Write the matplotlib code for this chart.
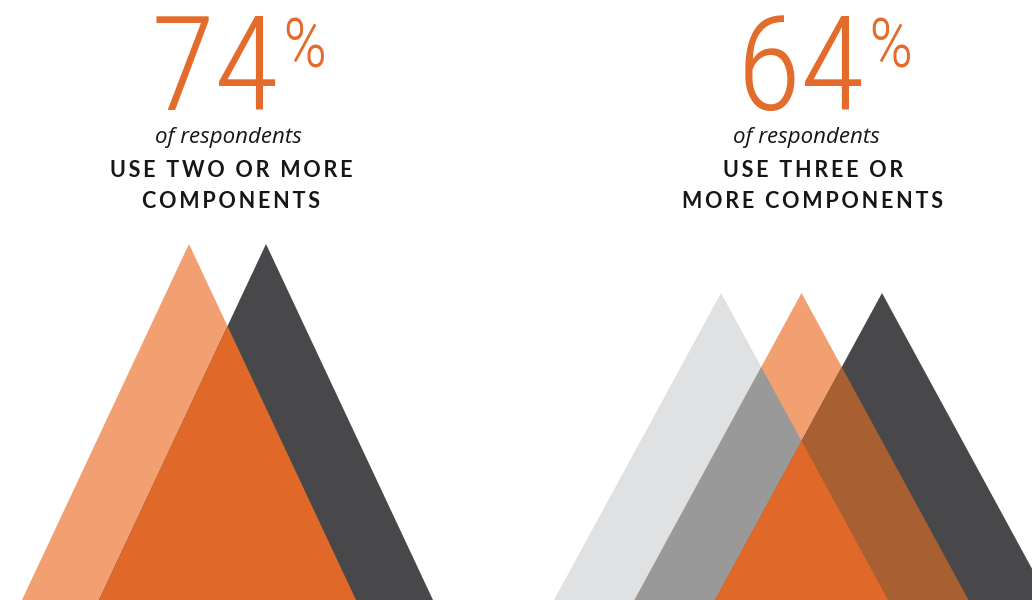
import os
import matplotlib
matplotlib.use("Agg")
import matplotlib.pyplot as plt
from matplotlib import font_manager
from matplotlib.font_manager import FontProperties
from matplotlib.patches import Polygon

# ---------------- data ----------------
percentages = [74, 64]
component_counts = [2, 3]
subtitle = "of respondents"
headline_lines = [["USE TWO OR MORE", "COMPONENTS"],
                  ["USE THREE OR", "MORE COMPONENTS"]]

# ---------------- styles ----------------
ORANGE = "#E0692A"
TEXT_ORANGE = "#E36B2B"
LIGHT_ORANGE = "#F29F72"
DARK = "#48484A"
LIGHT_GREY = "#E0E1E2"
MID_GREY = "#999999"
BROWN = "#A86033"
TEXT_DARK = "#161616"

tri_colors = [[LIGHT_ORANGE, DARK], [LIGHT_GREY, LIGHT_ORANGE, DARK]]
overlap_colors = [
    [((0, 1), ORANGE)],
    [((0, 1), MID_GREY), ((1, 2), BROWN), ((0, 1, 2), ORANGE)],
]

# ---------------- layout ----------------
W, H, DPI = 1032, 600, 100
panel_cx = [227.5, 801.5]          # centre of triangle group
panel_apex_y = [244, 293]
panel_spacing = [77, 80.5]
base_y = 600
base_half = 167
head_cx = [231.5, 813.0]
sub_cx = [228.5, 806.5]
num_cx = [214.5, 800.5]
num_base_y = 110
pct_base_y = 68
sub_base_y = 143
line_base_y = [177, 208]


def light_font():
    files = [f.fname for f in font_manager.fontManager.ttflist]
    prefs = ["robotocondensed-light", "opensanscondensed-light", "roboto-light",
             "opensans-light", "lato-light", "sourcesanspro-light"]
    for p in prefs:
        for fn in files:
            b = os.path.basename(fn).lower().replace(" ", "").replace("_", "-")
            if b.startswith(p) and "italic" not in b:
                return FontProperties(fname=fn)
    return FontProperties(family="DejaVu Sans", weight="light")


NUM_FP = light_font()


def clip(subject, clipper):
    """Sutherland-Hodgman clipping of convex CCW polygons."""
    def inside(p, a, b):
        return (b[0] - a[0]) * (p[1] - a[1]) - (b[1] - a[1]) * (p[0] - a[0]) >= 0

    def inter(p, q, a, b):
        x1, y1 = p; x2, y2 = q; x3, y3 = a; x4, y4 = b
        den = (x1 - x2) * (y3 - y4) - (y1 - y2) * (x3 - x4)
        t = ((x1 - x3) * (y3 - y4) - (y1 - y3) * (x3 - x4)) / den
        return (x1 + t * (x2 - x1), y1 + t * (y2 - y1))

    out = list(subject)
    n = len(clipper)
    for i in range(n):
        a, b = clipper[i], clipper[(i + 1) % n]
        inp, out = out, []
        if not inp:
            break
        s = inp[-1]
        for e in inp:
            if inside(e, a, b):
                if not inside(s, a, b):
                    out.append(inter(s, e, a, b))
                out.append(e)
            elif inside(s, a, b):
                out.append(inter(s, e, a, b))
            s = e
    return out


def track(s, sep="\u2009"):
    return sep.join(s)


fig = plt.figure(figsize=(W / DPI, H / DPI), dpi=DPI)
ax = fig.add_axes([0, 0, 1, 1])
ax.set_xlim(0, W)
ax.set_ylim(H, 0)
ax.axis("off")

renderer = fig.canvas.get_renderer()

for p, (pct, n) in enumerate(zip(percentages, component_counts)):
    # triangles
    tris = []
    for i in range(n):
        axp = panel_cx[p] + (i - (n - 1) / 2) * panel_spacing[p]
        tri = [(axp, panel_apex_y[p]), (axp + base_half, base_y), (axp - base_half, base_y)]
        tris.append(tri)
        ax.add_patch(Polygon(tri, closed=True, facecolor=tri_colors[p][i],
                             edgecolor="none", zorder=1))
    for idx, col in overlap_colors[p]:
        poly = tris[idx[0]]
        for j in idx[1:]:
            poly = clip(poly, tris[j])
        if len(poly) >= 3:
            ax.add_patch(Polygon(poly, closed=True, facecolor=col,
                                 edgecolor="none", zorder=2 + len(idx)))

    # big number + percent sign
    t = ax.text(num_cx[p], num_base_y, f"{pct}", fontproperties=NUM_FP, fontsize=95,
                color=TEXT_ORANGE, ha="center", va="baseline")
    bb = t.get_window_extent(renderer)
    ax.text(bb.x1 + 4, pct_base_y, "%", fontproperties=NUM_FP, fontsize=50,
            color=TEXT_ORANGE, ha="left", va="baseline")

    # subtitle
    ax.text(sub_cx[p], sub_base_y, subtitle, fontsize=16, family=["Open Sans", "DejaVu Sans"],
            style="italic", fontweight="normal", color=TEXT_DARK,
            ha="center", va="baseline")

    # headline
    for k, line in enumerate(headline_lines[p]):
        ax.text(head_cx[p], line_base_y[k], track(line), fontsize=15.5,
                family=["Lato", "DejaVu Sans"], fontweight="bold",
                color=TEXT_DARK, ha="center", va="baseline")

fig.savefig("out.png", dpi=DPI)
